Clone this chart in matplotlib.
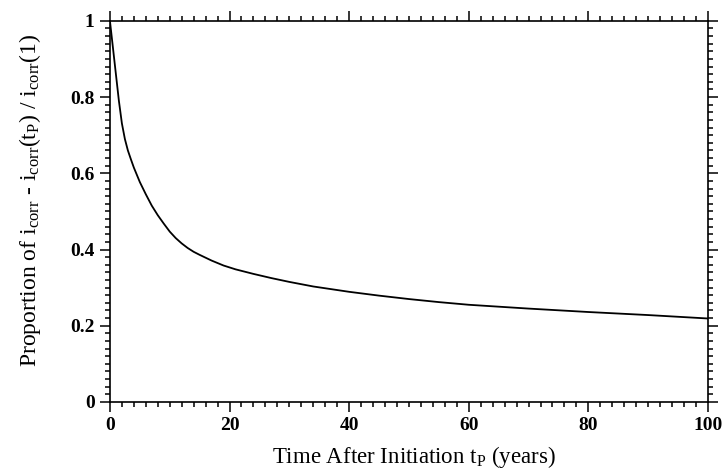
import numpy as np
import matplotlib.pyplot as plt
from matplotlib.ticker import MultipleLocator, FuncFormatter

# values
t_years = [0, 0.5, 1, 1.5, 2, 2.5, 3, 3.5, 4, 5, 6, 7, 8, 9, 10, 11, 12, 13, 14, 15, 17, 19, 21,
           24, 27, 30, 34, 40, 45, 50, 55, 60, 70, 80, 90, 100]
proportion = [1.0, 0.93, 0.86, 0.79, 0.731, 0.69, 0.66, 0.637, 0.615, 0.577, 0.545, 0.515, 0.49, 0.468,
              0.447, 0.43, 0.416, 0.404, 0.394, 0.386, 0.371, 0.358, 0.348, 0.336, 0.325, 0.315, 0.303,
              0.289, 0.279, 0.27, 0.262, 0.255, 0.245, 0.236, 0.228, 0.219]

plt.rcParams['font.family'] = 'Liberation Serif'
plt.rcParams['mathtext.fontset'] = 'custom'
plt.rcParams['mathtext.rm'] = 'Liberation Serif'
plt.rcParams['mathtext.it'] = 'Liberation Serif:italic'

fig = plt.figure(figsize=(7.28, 4.74), dpi=100)
ax = fig.add_axes([0.151, 0.152, 0.8215, 0.804])

ax.plot(t_years, proportion, color='black', linewidth=1.3)

ax.set_xlim(0, 100)
ax.set_ylim(0, 1)
ax.xaxis.set_major_locator(MultipleLocator(20))
ax.xaxis.set_minor_locator(MultipleLocator(2))
ax.yaxis.set_major_locator(MultipleLocator(0.2))
ax.yaxis.set_minor_locator(MultipleLocator(0.02))
ax.yaxis.set_major_formatter(FuncFormatter(lambda v, p: '%g' % round(v, 2)))

ax.tick_params(which='both', direction='out', top=True, right=True, labelsize=14, width=1.1, pad=4)
ax.tick_params(which='major', length=7)
ax.tick_params(which='minor', length=3.5)
for lab in ax.get_xticklabels() + ax.get_yticklabels():
    lab.set_fontweight('bold')
for sp in ax.spines.values():
    sp.set_linewidth(1.2)

ax.set_xlabel(r'Time After Initiation t$_{\rm P}$ (years)', fontsize=16.5)
ax.set_ylabel(r'Proportion of i$_{\rm corr}$ - i$_{\rm corr}$(t$_{\rm P}$) / i$_{\rm corr}$(1)', fontsize=17)
ax.xaxis.set_label_coords(0.508, -0.11)
ax.yaxis.set_label_coords(-0.112, 0.53)

fig.savefig('out.png', dpi=100)
